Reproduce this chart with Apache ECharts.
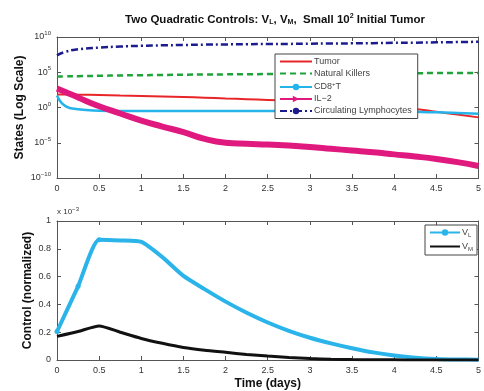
<!DOCTYPE html>
<html>
<head>
<meta charset="utf-8">
<script src="https://cdn.jsdelivr.net/npm/echarts@6/dist/echarts.min.js"></script>
<style>
  html, body { margin: 0; padding: 0; background: #fff; }
  #chart { width: 484px; height: 391px; }
</style>
</head>
<body>
<div id="chart"></div>
<script>
  // states, log10 values
  var days = [0, 0.1, 0.25, 0.5, 0.75, 1, 1.25, 1.5, 1.75, 2, 2.25, 2.5, 2.75, 3, 3.25, 3.5, 3.75, 4, 4.25, 4.5, 4.75, 5]
  var tumor = [1.85, 1.84, 1.82, 1.77, 1.7, 1.64, 1.57, 1.5, 1.4, 1.28, 1.18, 1.08, 0.97, 0.86, 0.7, 0.52, 0.32, 0.08, -0.2, -0.6, -1.0, -1.4]
  var killers = [4.4, 4.42, 4.45, 4.5, 4.55, 4.58, 4.62, 4.65, 4.68, 4.7, 4.72, 4.74, 4.76, 4.78, 4.8, 4.82, 4.84, 4.85, 4.87, 4.88, 4.89, 4.9]
  var cd8 = [1.7, 0.2, -0.25, -0.45, -0.5, -0.5, -0.5, -0.5, -0.5, -0.5, -0.5, -0.5, -0.5, -0.5, -0.5, -0.52, -0.55, -0.58, -0.62, -0.68, -0.78, -0.9]
  var il2 = [2.67, 2.2, 1.42, 0.17, -0.85, -1.86, -2.7, -3.5, -4.45, -5.0, -5.15, -5.25, -5.4, -5.6, -5.85, -6.1, -6.35, -6.65, -6.95, -7.3, -7.75, -8.3]
  var lymph = [7.4, 7.9, 8.25, 8.5, 8.65, 8.75, 8.82, 8.87, 8.92, 8.95, 8.98, 9.0, 9.02, 9.05, 9.08, 9.1, 9.13, 9.17, 9.2, 9.24, 9.28, 9.32]

  // controls, bottom panel (x 10^-3)
  var ctrlDays = [0, 0.25, 0.5, 0.75, 1, 1.25, 1.5, 1.75, 2, 2.25, 2.5, 2.75, 3, 3.25, 3.5, 3.75, 4, 4.25, 4.5, 4.75, 5]
  var vL = [0.205, 0.53, 0.865, 0.86, 0.85, 0.74, 0.605, 0.51, 0.42, 0.34, 0.27, 0.21, 0.16, 0.12, 0.085, 0.055, 0.033, 0.017, 0.008, 0.004, 0.002]
  var vM = [0.17, 0.205, 0.245, 0.2, 0.155, 0.12, 0.09, 0.07, 0.055, 0.04, 0.028, 0.018, 0.01, 0.006, 0.003, 0.002, 0.001, 0, 0, 0, 0]

  var xTicks = [0, 0.5, 1, 1.5, 2, 2.5, 3, 3.5, 4, 4.5, 5]
  var logTicks = [-10, -5, 0, 5, 10]
  var ctrlTicks = [0, 0.2, 0.4, 0.6, 0.8, 1]

  var font = 'Liberation Sans, Arial, sans-serif'
  var frame = '#555'

  function pairs(xs, ys) {
    return xs.map(function (x, i) { return [x, ys[i]] })
  }

  function xAxisCfg(grid, pos, labels, name) {
    return {
      type: 'value', gridIndex: grid, position: pos, min: 0, max: 5, interval: 0.5,
      axisLine: { show: true, onZero: false, lineStyle: { color: frame, width: 1 } },
      axisTick: { show: true, inside: true, length: 4, lineStyle: { color: frame } },
      splitLine: { show: false },
      axisLabel: {
        show: labels, color: '#333', fontSize: 9, fontFamily: font, margin: 6,
        formatter: function (v) { return xTicks.indexOf(v) >= 0 ? String(v) : '' }
      },
      name: name || '', nameLocation: 'middle', nameGap: 18, nameMoveOverlap: false,
      nameTextStyle: { fontSize: 12, fontWeight: 'bold', color: '#111', fontFamily: font }
    }
  }

  function yAxisCfg(grid, pos, min, max, step, labels, fmt, name, gap) {
    return {
      type: 'value', gridIndex: grid, position: pos, min: min, max: max, interval: step,
      axisLine: { show: true, onZero: false, lineStyle: { color: frame, width: 1 } },
      axisTick: { show: true, inside: true, length: 4, lineStyle: { color: frame } },
      splitLine: { show: false },
      axisLabel: {
        show: labels, color: '#333', fontSize: 9, fontFamily: font, margin: 6, formatter: fmt,
        rich: { s: { fontSize: 6, verticalAlign: 'top', padding: [0, 0, 7, 0], color: '#333' } }
      },
      name: name || '', nameLocation: 'middle', nameGap: gap || 30, nameMoveOverlap: false,
      nameTextStyle: { fontSize: 12, fontWeight: 'bold', color: '#111', fontFamily: font }
    }
  }

  var chart = echarts.init(document.getElementById('chart'))

  var noMark = { opacity: 0 }

  var option = {
    animation: false,
    backgroundColor: '#fff',
    textStyle: { fontFamily: font },
    title: {
      left: 270, top: 8, textAlign: 'center',
      text: '{b|Two Quadratic Controls: V}{sb|L}{b|, V}{sb|M}{b|,  Small 10}{sp|2}{b| Initial Tumor}',
      textStyle: {
        rich: {
          b: { fontSize: 11.5, fontWeight: 'bold', color: '#111', fontFamily: font },
          sb: { fontSize: 7, fontWeight: 'bold', color: '#111', fontFamily: font, padding: [6, 0, 0, 0] },
          sp: { fontSize: 7, fontWeight: 'bold', color: '#111', fontFamily: font, padding: [0, 0, 6, 0] }
        }
      }
    },
    graphic: [{
      type: 'text', left: 57, top: 206,
      style: {
        text: 'x 10{s|−3}', fill: '#333', fontSize: 8, fontFamily: font,
        rich: { s: { fontSize: 6, padding: [0, 0, 6, 0], fill: '#333' } }
      }
    }],
    grid: [
      { left: 57, top: 37, width: 426, height: 141 },
      { left: 57, top: 221, width: 426, height: 141 }
    ],
    xAxis: [
      xAxisCfg(0, 'bottom', true),
      xAxisCfg(0, 'top', false),
      xAxisCfg(1, 'bottom', true, 'Time (days)'),
      xAxisCfg(1, 'top', false)
    ],
    yAxis: [
      yAxisCfg(0, 'left', -10, 10, 5, true, function (v) {
        return logTicks.indexOf(v) >= 0 ? '10{s|' + String(v).replace('-', '−') + '}' : ''
      }, 'States (Log Scale)', 31),
      yAxisCfg(0, 'right', -10, 10, 5, false),
      yAxisCfg(1, 'left', 0, 1, 0.2, true, function (v) {
        var r = Math.round(v * 10) / 10
        return ctrlTicks.indexOf(r) >= 0 ? String(r) : ''
      }, 'Control (normalized)', 23),
      yAxisCfg(1, 'right', 0, 1, 0.2, false)
    ],
    legend: [
      {
        orient: 'vertical', left: 275, top: 54, width: 147,
        padding: [3, 6, 3, 4], itemGap: 3, itemWidth: 32, itemHeight: 8,
        borderColor: '#444', borderWidth: 1, backgroundColor: '#fff',
        textStyle: { fontSize: 9, color: '#444', fontFamily: font, padding: [0, 0, 0, -3],
          rich: { s: { fontSize: 6, padding: [0, 0, 6, 0], color: '#444' } } },
        formatter: function (n) { return n === 'CD8+T' ? 'CD8{s|+}T' : n },
        data: [
          { name: 'Tumor', itemStyle: noMark },
          { name: 'Natural Killers', itemStyle: noMark },
          'CD8+T', 'IL−2', 'Circulating Lymphocytes'
        ]
      },
      {
        orient: 'vertical', left: 425, top: 225,
        padding: [3, 4, 3, 4], itemGap: 4, itemWidth: 30, itemHeight: 8,
        borderColor: '#444', borderWidth: 1, backgroundColor: '#fff',
        textStyle: { fontSize: 9, color: '#444', fontFamily: font, padding: [0, 0, 0, -3],
          rich: { b: { fontSize: 9, color: '#444' }, sb: { fontSize: 6, padding: [5, 0, 0, 0], color: '#444' } } },
        formatter: function (n) { return n === 'V_L' ? '{b|V}{sb|L}' : '{b|V}{sb|M}' },
        data: ['V_L', { name: 'V_M', itemStyle: noMark }]
      }
    ],
    series: [
      {
        name: 'Natural Killers', type: 'line', xAxisIndex: 0, yAxisIndex: 0,
        data: pairs(days, killers), symbol: 'none', smooth: true,
        lineStyle: { color: '#1fa33a', width: 2.5, type: [6, 4] }, itemStyle: { color: '#1fa33a' }
      },
      {
        name: 'Circulating Lymphocytes', type: 'line', xAxisIndex: 0, yAxisIndex: 0,
        data: pairs(days, lymph), symbol: 'circle', symbolSize: 4, showSymbol: false, smooth: true,
        lineStyle: { color: '#1c1c8e', width: 2.5, type: [7, 3, 2, 3] }, itemStyle: { color: '#1c1c8e' }
      },
      {
        name: 'Tumor', type: 'line', xAxisIndex: 0, yAxisIndex: 0,
        data: pairs(days, tumor), symbol: 'none', smooth: true,
        lineStyle: { color: '#e8262a', width: 2 }, itemStyle: { color: '#e8262a' }
      },
      {
        name: 'CD8+T', type: 'line', xAxisIndex: 0, yAxisIndex: 0,
        data: pairs(days, cd8), symbol: 'circle', symbolSize: 4, showSymbol: false, smooth: true,
        lineStyle: { color: '#25b4ea', width: 2.5 }, itemStyle: { color: '#25b4ea' }
      },
      {
        name: 'IL−2', type: 'line', xAxisIndex: 0, yAxisIndex: 0,
        data: pairs(days, il2), symbol: 'triangle', symbolRotate: -90, symbolSize: 7, showSymbol: false, smooth: true,
        lineStyle: { color: '#e0197f', width: 6 }, itemStyle: { color: '#e0197f' }
      },
      {
        name: 'V_L', type: 'line', xAxisIndex: 2, yAxisIndex: 2,
        data: pairs(ctrlDays, vL).map(function (p, i) {
          return i <= 2 ? { value: p, symbol: 'circle', symbolSize: 5 } : { value: p, symbol: 'none' }
        }),
        symbol: 'circle', symbolSize: 5, smooth: 0.2,
        lineStyle: { color: '#2ab4ea', width: 4 }, itemStyle: { color: '#2ab4ea' }
      },
      {
        name: 'V_M', type: 'line', xAxisIndex: 2, yAxisIndex: 2,
        data: pairs(ctrlDays, vM), symbol: 'none', smooth: 0.2,
        lineStyle: { color: '#111', width: 3 }, itemStyle: { color: '#111' }
      }
    ]
  }

  chart.setOption(option)
</script>
</body>
</html>
